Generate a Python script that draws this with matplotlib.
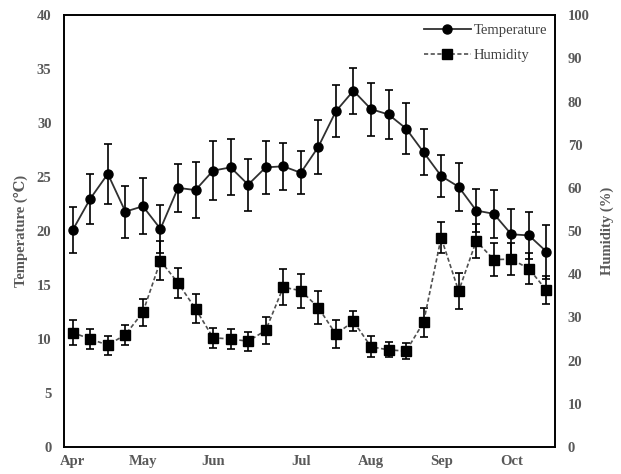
import numpy as np
import matplotlib
matplotlib.use("Agg")
import matplotlib.pyplot as plt

plt.rcParams['font.family'] = ['Liberation Serif', 'DejaVu Serif', 'DejaVu Sans']

# weekly observations, Apr - Oct
temp = [20.1, 23.0, 25.3, 21.8, 22.3, 20.2, 24.0, 23.8, 25.6, 25.9, 24.3, 25.9, 26.0, 25.4,
        27.8, 31.1, 33.0, 31.3, 30.8, 29.5, 27.3, 25.1, 24.1, 21.9, 21.6, 19.7, 19.6, 18.1]
temp_err = [2.1, 2.3, 2.8, 2.4, 2.6, 2.2, 2.2, 2.6, 2.7, 2.6, 2.4, 2.45, 2.2, 2.0,
            2.5, 2.4, 2.15, 2.45, 2.25, 2.4, 2.15, 1.95, 2.25, 2.0, 2.2, 2.3, 2.2, 2.5]
hum = [26.5, 25.0, 23.6, 26.0, 31.2, 43.1, 38.0, 32.0, 25.3, 25.0, 24.5, 27.0, 37.0, 36.2,
       32.3, 26.1, 29.1, 23.2, 22.5, 22.2, 28.9, 48.5, 36.1, 47.7, 43.4, 43.5, 41.3, 36.3]
hum_err = [2.8, 2.3, 2.2, 2.3, 3.1, 4.5, 3.5, 3.4, 2.3, 2.3, 2.2, 3.2, 4.2, 3.9,
           3.9, 3.2, 2.3, 2.4, 1.7, 1.8, 3.4, 3.6, 4.1, 3.9, 3.8, 3.7, 3.6, 3.3]
month_pos = [0, 4, 8, 13, 17, 21, 25]
month_labels = ['Apr', 'May', 'Jun', 'Jul', 'Aug', 'Sep', 'Oct']

x = np.arange(len(temp))
gray = '#595959'

fig = plt.figure(figsize=(6.21, 4.74), dpi=100)
ax = fig.add_axes([0.103, 0.057, 0.791, 0.911])
ax2 = ax.twinx()

ax.errorbar(x, temp, yerr=temp_err, fmt='none', ecolor='black', elinewidth=1.2, capsize=3, capthick=1.2)
l1, = ax.plot(x, temp, '-', color='#303030', lw=1.3, marker='o', ms=6.5, mfc='black', mec='black',
              label='Temperature')

ax2.errorbar(x, hum, yerr=hum_err, fmt='none', ecolor='black', elinewidth=1.2, capsize=3, capthick=1.2)
l2, = ax2.plot(x, hum, '--', color='#505050', lw=1.2, marker='s', ms=7, mfc='black', mec='black',
               label='Humidity', dashes=(2.5, 1.5))

ax.set_xlim(-0.5, 27.5)
ax.set_ylim(0, 40)
ax2.set_ylim(0, 100)
ax.set_yticks(np.arange(0, 41, 5))
ax2.set_yticks(np.arange(0, 101, 10))
ax.set_xticks(month_pos)
ax.set_xticklabels(month_labels)

for a in (ax, ax2):
    a.tick_params(length=0, labelsize=10.5, labelcolor=gray, pad=9)
    for lab in a.get_xticklabels() + a.get_yticklabels():
        lab.set_fontweight('bold')
    for s in a.spines.values():
        s.set_linewidth(1.2)
        s.set_color('black')
ax.tick_params(axis='x', pad=6)

ax.set_ylabel('Temperature (℃)', fontsize=10.5, fontweight='bold', color=gray, labelpad=6)
ax2.set_ylabel('Humidity (%)', fontsize=10.5, fontweight='bold', color=gray, labelpad=8)

leg = ax.legend(handles=[l1, l2], loc='upper right', frameon=False, fontsize=10.5,
                handlelength=3.2, handletextpad=0.2, labelspacing=0.8,
                bbox_to_anchor=(1.01, 1.01))
for t in leg.get_texts():
    t.set_color('#404040')

fig.savefig('out.png', dpi=100)
